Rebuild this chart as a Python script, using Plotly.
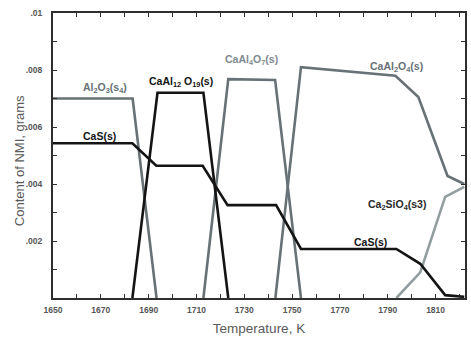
import plotly.graph_objects as go

# Non-metallic inclusion content vs temperature (grams)
al2o3_t = [1650, 1683.3, 1693.3]
al2o3_m = [0.0070, 0.0070, 0.0]

caal12o19_t = [1683.2, 1693.7, 1712.9, 1723.3]
caal12o19_m = [0.0, 0.0072, 0.0072, 0.0]

cas_t = [1650, 1683.2, 1693.2, 1712.6, 1723.0, 1743.3, 1753.7, 1793.6, 1803.6, 1814.0, 1822]
cas_m = [0.00543, 0.00543, 0.00464, 0.00464, 0.00326, 0.00326, 0.00172, 0.00172, 0.0012, 0.0001, 0.00004]

caal4o7_t = [1712.9, 1723.3, 1742.9, 1753.7]
caal4o7_m = [0.0, 0.00768, 0.00765, 0.0]

caal2o4_t = [1743.0, 1753.7, 1793.2, 1802.8, 1815.0, 1822]
caal2o4_m = [0.0, 0.0081, 0.0078, 0.00705, 0.00428, 0.0040]

ca2sio4_t = [1793.6, 1803.6, 1814.0, 1822]
ca2sio4_m = [0.0, 0.0009, 0.00355, 0.0039]

y_tick_vals = [0.002, 0.004, 0.006, 0.008, 0.01]
y_tick_text = [".002", ".004", ".006", ".008", ".01"]
x_tick_vals = [1650, 1670, 1690, 1710, 1730, 1750, 1770, 1790, 1810]

BLACK = "#141414"
GRAY = "#687276"
LIGHT = "#939da0"
FONT = "Liberation Sans, Arial"

fig = go.Figure()
series = [
    (al2o3_t, al2o3_m, GRAY),
    (caal4o7_t, caal4o7_m, GRAY),
    (caal2o4_t, caal2o4_m, GRAY),
    (ca2sio4_t, ca2sio4_m, LIGHT),
    (caal12o19_t, caal12o19_m, BLACK),
    (cas_t, cas_m, BLACK),
]
for t, m, c in series:
    fig.add_trace(go.Scatter(x=t, y=m, mode="lines",
                             line=dict(color=c, width=2.6),
                             showlegend=False, hoverinfo="skip"))

labels = [
    ("Al<sub>2</sub>O<sub>3</sub>(s<sub>4</sub>)", 1671.6, 0.00737, GRAY),
    ("CaS(s)", 1669.6, 0.00568, BLACK),
    ("CaAl<sub>12</sub> O<sub>19</sub>(s)", 1703.5, 0.00758, BLACK),
    ("CaAl<sub>4</sub>O<sub>7</sub>(s)", 1733.1, 0.00835, "#7f8a8e"),
    ("CaAl<sub>2</sub>O<sub>4</sub>(s)", 1793.8, 0.0081, GRAY),
    ("Ca<sub>2</sub>SiO<sub>4</sub>(s3)", 1794.0, 0.00326, "#2a2a2a"),
    ("CaS(s)", 1782.6, 0.00196, BLACK),
]
for txt, x, y, c in labels:
    fig.add_annotation(x=x, y=y, xref="x", yref="y", text=f"<b>{txt}</b>",
                       showarrow=False,
                       font=dict(family=FONT, size=10.5, color=c))

# vertical axis title, centred at about x=19 px, y=161 px
fig.add_annotation(x=(19 - 53) / 414, y=(298 - 161) / 285, xref="paper", yref="paper",
                   xanchor="center", yanchor="middle",
                   text="Content of NMI, grams", showarrow=False, textangle=-90,
                   font=dict(family=FONT, size=13, color="#5a5a5a"))

axis_common = dict(showline=True, linecolor="#2e2e2e", linewidth=2, mirror="ticks",
                   ticks="inside", ticklen=4, tickcolor="#2e2e2e", tickwidth=1.2,
                   showgrid=False, zeroline=False)

tick_font = dict(size=8.5, color="#555555", family=FONT, weight="bold")

fig.update_layout(
    width=471, height=338,
    margin=dict(l=53, r=4, t=13, b=40),
    paper_bgcolor="white", plot_bgcolor="white",
    font=dict(family=FONT, color="#555555"),
    xaxis=dict(range=[1650, 1822.3], tickvals=x_tick_vals, tickfont=tick_font,
               ticklabelstandoff=3,
               title=dict(text="Temperature, K", font=dict(size=13.5, color="#5a5a5a"), standoff=9),
               minor=dict(dtick=10, tick0=1650, ticks="inside", ticklen=4, tickcolor="#2e2e2e"),
               **axis_common),
    yaxis=dict(range=[0, 0.01], tickvals=y_tick_vals, ticktext=y_tick_text, tickfont=tick_font,
               ticklabelstandoff=7,
               minor=dict(dtick=0.001, tick0=0, ticks="inside", ticklen=4, tickcolor="#2e2e2e"),
               **axis_common),
)

fig.write_html("out.html")
